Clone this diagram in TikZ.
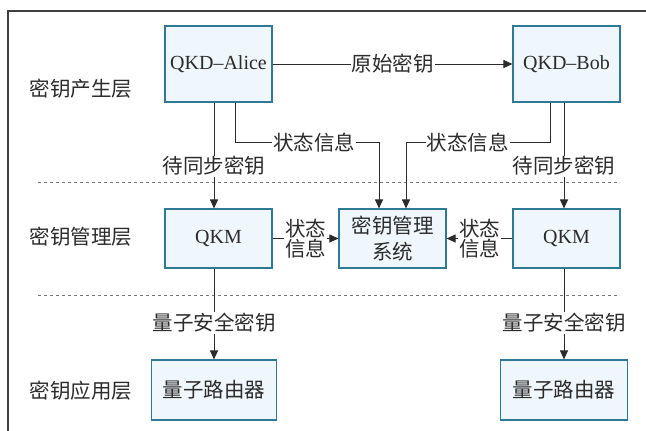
\documentclass[tikz,border=0pt]{standalone}
\usepackage{fontspec}
\setmainfont{Liberation Serif}
\newfontfamily\cjk{Noto Sans CJK SC}
\usetikzlibrary{arrows.meta,calc}
\definecolor{boxfill}{HTML}{EFF7FC}
\definecolor{boxdraw}{HTML}{2E7A94}
\definecolor{ink}{HTML}{2B2B2B}
\begin{document}
\begin{tikzpicture}[x=1pt,y=-1pt,
  box/.style={draw=boxdraw,fill=boxfill,line width=1.1pt,minimum width=107pt,inner sep=0pt,text=ink},
  cbox/.style={box,font=\cjk\fontsize{20.5}{26}\selectfont},
  lbox/.style={box,font=\fontsize{20}{22}\selectfont},
  layer/.style={font=\cjk\fontsize{20.5}{24}\selectfont,text=ink,inner sep=0pt},
  lbl/.style={font=\cjk\fontsize{20.5}{24}\selectfont,text=ink,fill=white,inner sep=1pt,align=center},
  lbltwo/.style={lbl,font=\cjk\fontsize{20.5}{19.5}\selectfont},
  conn/.style={draw=ink,line width=1pt},
  arr/.style={conn,-{Triangle[length=9pt,width=8pt]}},
  sep/.style={draw=ink!65,line width=1pt,dash pattern=on 3pt off 3pt}
]
\useasboundingbox (0,0) rectangle (646,431);
% frame
\draw[draw=ink!90,line width=1.2pt] (8,431) -- (8,11) -- (646,11);
% separators
\draw[sep] (38,182) -- (620,182);
\draw[sep] (38,295) -- (620,295);
% layer labels
\node[layer] (l1) at (81,89) {密钥产生层};
\node[layer] (l2) at (81,237) {密钥管理层};
\node[layer] (l3) at (81,391) {密钥应用层};
% boxes
\node[lbox,minimum height=76pt] (alice) at (218.5,64) {QKD--Alice};
\node[lbox,minimum height=76pt] (bob) at (566.5,64) {QKD--Bob};
\node[lbox,minimum height=59pt] (qkmL) at (218.5,238.5) {QKM};
\node[lbox,minimum height=59pt] (qkmR) at (566.5,238.5) {QKM};
\node[cbox,minimum height=59pt,align=center] (kms) at (392.5,238.5) {密钥管理\\系统};
\node[cbox,minimum height=60pt,minimum width=125pt] (rL) at (214,390) {量子路由器};
\node[cbox,minimum height=60pt,minimum width=127pt] (rR) at (564,390) {量子路由器};
% connectors
\draw[arr] (alice.east) -- node[lbl]{原始密钥} (bob.west);
\draw[arr] (alice.south -| rL.north) -- node[lbl,pos=0.6]{待同步密钥} (qkmL.north -| rL.north);
\draw[arr] (bob.south -| rR.north) -- node[lbl,pos=0.6]{待同步密钥} (qkmR.north -| rR.north);
\draw[arr] (qkmL.south -| rL.north) -- node[lbl,pos=0.6]{量子安全密钥} (rL.north);
\draw[arr] (qkmR.south -| rR.north) -- node[lbl,pos=0.6]{量子安全密钥} (rR.north);
\draw[arr] ([xshift=16.5pt]alice.south) -- ++(0,40) -| node[lbl,pos=0.275]{状态信息} ([xshift=-13.5pt]kms.north);
\draw[arr] ([xshift=-16.5pt]bob.south) -- ++(0,40) -| node[lbl,pos=0.285]{状态信息} ([xshift=13.5pt]kms.north);
\draw[arr] (qkmL.east) -- node[lbltwo]{状态\\信息} (kms.west);
\draw[arr] (qkmR.west) -- node[lbltwo]{状态\\信息} (kms.east);
\end{tikzpicture}
\end{document}
